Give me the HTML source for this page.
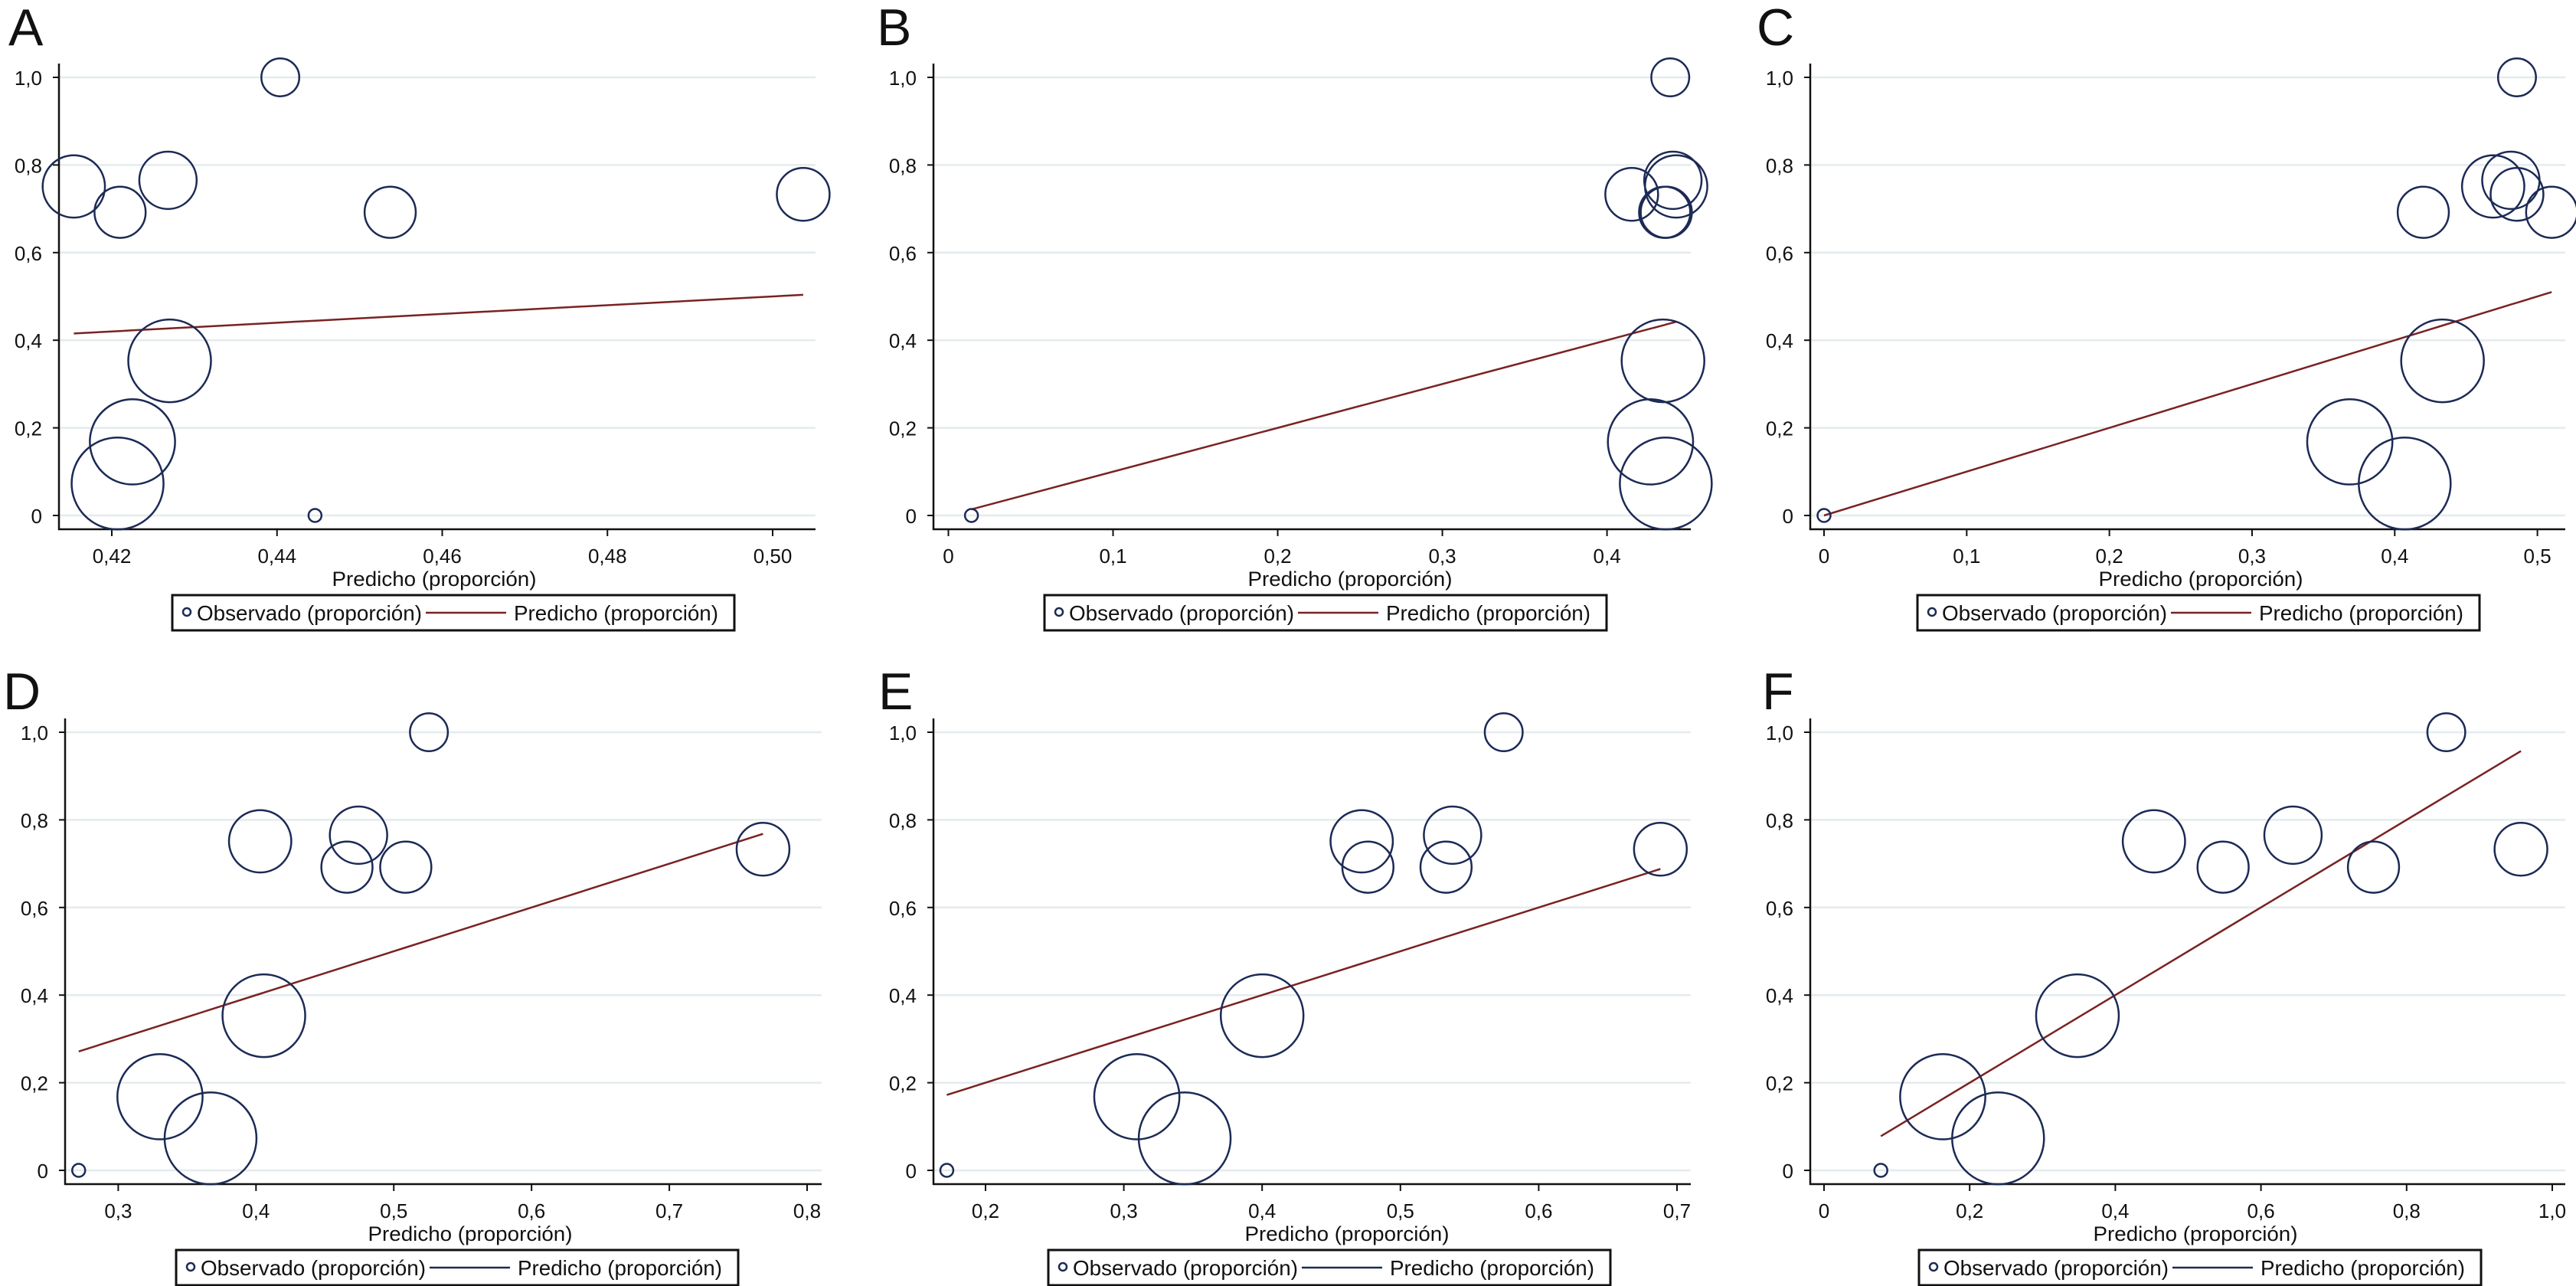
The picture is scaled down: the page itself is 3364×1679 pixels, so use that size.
<!DOCTYPE html>
<html><head><meta charset="utf-8"><style>
html,body{margin:0;padding:0;background:#fff}
svg{display:block}
text{font-family:"Liberation Sans",sans-serif;fill:#111}
</style></head><body>
<svg id="fig" width="3364" height="1679" viewBox="0 0 3364 1679" xmlns="http://www.w3.org/2000/svg"></svg>
<script>
// Observed proportions (same for every panel)
const obsY = [1.0, 0.751, 0.692, 0.765, 0.692, 0.733, 0.353, 0.168, 0.073, 0];
// Frequency weights (marker area)
const obsWeight = [17, 46, 31, 39, 31, 33, 81, 86, 100, 2];
// Predicted proportions per panel
const predA = [0.4404, 0.4154, 0.421, 0.4268, 0.4537, 0.5037, 0.427, 0.4225, 0.4207, 0.4446];
const predB = [0.4384, 0.442, 0.436, 0.440, 0.435, 0.415, 0.434, 0.4264, 0.4357, 0.014];
const predC = [0.4857, 0.469, 0.420, 0.4814, 0.510, 0.4857, 0.4335, 0.3685, 0.407, 0.0];
const predD = [0.5255, 0.403, 0.466, 0.4744, 0.5087, 0.768, 0.4057, 0.3303, 0.367, 0.2713];
const predE = [0.5747, 0.472, 0.4765, 0.5377, 0.533, 0.688, 0.400, 0.3094, 0.344, 0.172];
const predF = [0.8545, 0.453, 0.548, 0.644, 0.7545, 0.957, 0.348, 0.163, 0.239, 0.078];
// Tick labels
const yTicks = [0, 0.2, 0.4, 0.6, 0.8, 1.0];
const xTicksA = [0.42, 0.44, 0.46, 0.48, 0.50];
const xTicksB = [0, 0.1, 0.2, 0.3, 0.4];
const xTicksC = [0, 0.1, 0.2, 0.3, 0.4, 0.5];
const xTicksD = [0.3, 0.4, 0.5, 0.6, 0.7, 0.8];
const xTicksE = [0.2, 0.3, 0.4, 0.5, 0.6, 0.7];
const xTicksF = [0, 0.2, 0.4, 0.6, 0.8, 1.0];
const panelLetters = ["A", "B", "C", "D", "E", "F"];

const NS = "http://www.w3.org/2000/svg";
const svg = document.getElementById("fig");
function mk(tag, attrs, parent) {
  const e = document.createElementNS(NS, tag);
  for (const k in attrs) e.setAttribute(k, attrs[k]);
  (parent || svg).appendChild(e);
  return e;
}
function fmt(v, dec) {
  if (v === 0) return "0";
  return v.toFixed(dec).replace(".", ",");
}

const panels = [
  {pred: predA, ticks: xTicksA, dec: 2, ox: 0, oy: 0, axisX: 77, end: 1065, t0: 146, t1: 1009, leg: 225, tc: 567, lx: 11, legLine: "#7a2222"},
  {pred: predB, ticks: xTicksB, dec: 1, ox: 1120, oy: 0, axisX: 1219, end: 2208, t0: 1238.5, t1: 2098.6, leg: 1364, tc: 1763, lx: 1145, legLine: "#7a2222"},
  {pred: predC, ticks: xTicksC, dec: 1, ox: 2240, oy: 0, axisX: 2364, end: 3350, t0: 2382, t1: 3313.6, leg: 2504, tc: 2874, lx: 2294, legLine: "#7a2222"},
  {pred: predD, ticks: xTicksD, dec: 1, ox: 0, oy: 855, axisX: 85, end: 1073, t0: 154.4, t1: 1054, leg: 230, tc: 614, lx: 4, legLine: "#1c2a55"},
  {pred: predE, ticks: xTicksE, dec: 1, ox: 1120, oy: 855, axisX: 1219, end: 2208, t0: 1287, t1: 2190, leg: 1369, tc: 1759, lx: 1147, legLine: "#1c2a55"},
  {pred: predF, ticks: xTicksF, dec: 1, ox: 2240, oy: 855, axisX: 2364, end: 3350, t0: 2382, t1: 3333, leg: 2506, tc: 2867, lx: 2301, legLine: "#1c2a55"}
];

panels.forEach((p, i) => {
  const g = mk("g", {});
  
  
  const tMin = p.ticks[0], tMax = p.ticks[p.ticks.length - 1];
  const xs = v => p.t0 + (v - tMin) / (tMax - tMin) * (p.t1 - p.t0);
  const ys = v => p.oy + 673 - v * 572;
  const row2 = p.oy > 0 ? 12 : 0;

  const lab = mk("text", {x: p.lx, y: p.oy + 59 + row2, "font-size": 68}, g);
  lab.textContent = panelLetters[i];
  
  

  // gridlines + y ticks
  yTicks.forEach(v => {
    const gl = mk("line", {x1: p.axisX, x2: p.end, y1: ys(v), y2: ys(v), stroke: "#e4ebee", "stroke-width": 2.5}, g);
    
    
    mk("line", {x1: p.axisX - 8, x2: p.axisX, y1: ys(v), y2: ys(v), stroke: "#111", "stroke-width": 2}, g);
    const t = mk("text", {x: p.axisX - 22, y: ys(v) + 10, "font-size": 26, "text-anchor": "end"}, g);
    t.textContent = fmt(v, 1);
    
    
  });
  // axes
  const ya = mk("line", {x1: p.axisX, x2: p.axisX, y1: p.oy + 83, y2: p.oy + 692, stroke: "#111", "stroke-width": 2.5}, g);
  
  
  const xa = mk("line", {x1: p.axisX - 1, x2: p.end, y1: p.oy + 691, y2: p.oy + 691, stroke: "#111", "stroke-width": 2.5}, g);
  
  
  p.ticks.forEach(v => {
    mk("line", {x1: xs(v), x2: xs(v), y1: p.oy + 691, y2: p.oy + 700, stroke: "#111", "stroke-width": 2}, g);
    const t = mk("text", {x: xs(v), y: p.oy + 735, "font-size": 26, "text-anchor": "middle"}, g);
    t.textContent = fmt(v, p.dec);
    
    
  });
  const xt = mk("text", {x: p.tc, y: p.oy + 765, "font-size": 27, "text-anchor": "middle", textLength: 267, lengthAdjust: "spacingAndGlyphs"}, g);
  xt.textContent = "Predicho (proporción)";
  
  

  // predicted line (y = predicted)
  const order = p.pred.map((v, k) => k).sort((a, b) => p.pred[a] - p.pred[b]);
  const pts = order.map(k => xs(p.pred[k]).toFixed(1) + "," + ys(p.pred[k]).toFixed(1)).join(" ");
  const pl = mk("polyline", {points: pts, fill: "none", stroke: "#7a2222", "stroke-width": 2.5}, g);
  
  

  // observed circles
  p.pred.forEach((v, k) => {
    const c = mk("circle", {cx: xs(v), cy: ys(obsY[k]), r: 6 * Math.sqrt(obsWeight[k]), fill: "none", stroke: "#1c2a55", "stroke-width": 2.5}, g);
    
    
  });

  // legend
  const L = p.leg, ly = p.oy + 777;
  const lg = mk("g", {}, g);
  
  
  mk("rect", {x: L, y: ly, width: 734, height: 46, fill: "#fff", stroke: "#111", "stroke-width": 3}, lg);
  mk("circle", {cx: L + 19, cy: ly + 22, r: 5, fill: "none", stroke: "#1c2a55", "stroke-width": 2.5}, lg);
  const t1 = mk("text", {x: L + 32, y: ly + 33, "font-size": 28, textLength: 294, lengthAdjust: "spacingAndGlyphs"}, lg);
  t1.textContent = "Observado (proporción)";
  
  
  mk("line", {x1: L + 331, x2: L + 436, y1: ly + 23, y2: ly + 23, stroke: p.legLine, "stroke-width": 2.5}, lg);
  const t2 = mk("text", {x: L + 446, y: ly + 33, "font-size": 28, textLength: 267, lengthAdjust: "spacingAndGlyphs"}, lg);
  t2.textContent = "Predicho (proporción)";
  
  
});
</script>
</body></html>
